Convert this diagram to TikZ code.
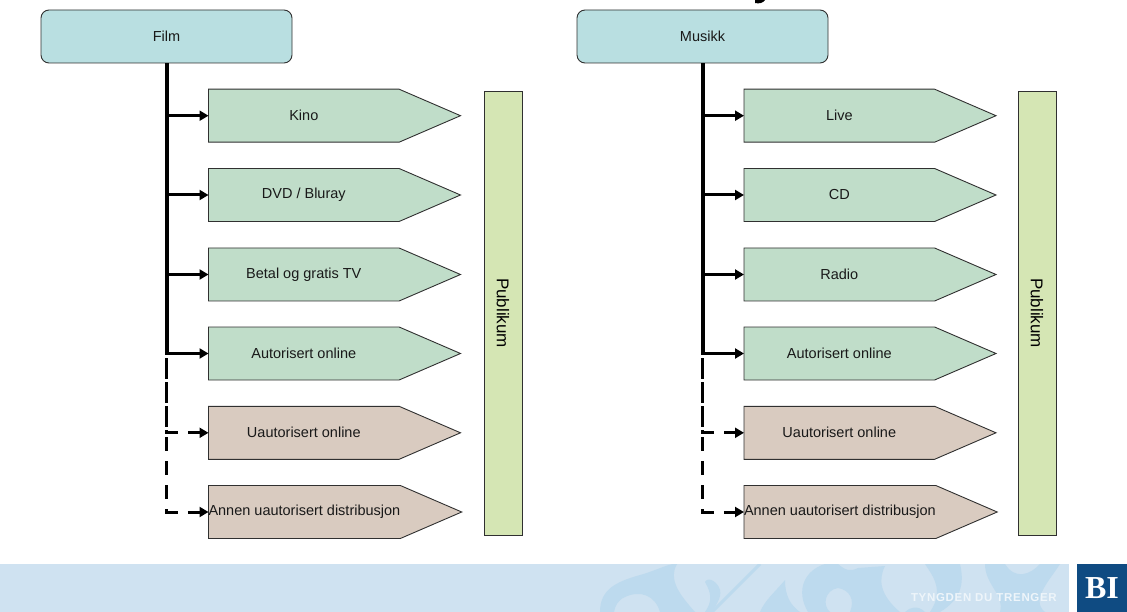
\documentclass[tikz,border=0pt]{standalone}
\usepackage{fontspec}
\setmainfont{Liberation Sans}
\newfontfamily\serifbi{Liberation Serif}
\newfontfamily\tagfont[LetterSpace=6]{Liberation Sans}
\usetikzlibrary{shapes.symbols,arrows.meta}
\definecolor{headfill}{HTML}{B9DFE1}
\definecolor{greenfill}{HTML}{C0DDC9}
\definecolor{brownfill}{HTML}{D9CBC0}
\definecolor{pubfill}{HTML}{D5E6B4}
\definecolor{bandfill}{HTML}{CFE2F1}
\definecolor{ornfill}{HTML}{BDDAEE}
\definecolor{binavy}{HTML}{0F4B82}
\definecolor{edge}{HTML}{303030}
\tikzset{
  x=1pt,y=-1pt,
  lbl/.style={font=\fontsize{14.5}{16}\selectfont,text=black!90},
  head/.style={lbl,draw=edge,line width=0.9pt,fill=headfill,rounded corners=8pt,
     minimum width=251pt,minimum height=53pt,inner sep=0pt},
  pent/.style={lbl,draw=edge,line width=0.9pt,shape=signal,signal to=east,signal pointer angle=46.7,
     minimum width=252pt,minimum height=53pt,inner sep=0pt,outer sep=0pt},
  okpent/.style={pent,fill=greenfill},
  badpent/.style={pent,fill=brownfill},
  pub/.style={draw=edge,line width=0.9pt,fill=pubfill,rotate=-90,
     minimum width=444pt,minimum height=38pt,inner sep=0pt,
     font=\fontsize{17}{19}\selectfont},
  tip/.style={-{Triangle[length=9pt,width=10pt]}},
  spine/.style={line width=4pt,black},
  branch/.style={line width=3pt,black,tip},
  dashA/.style={line width=3pt,black,tip,dash pattern=on 14pt off 10pt,dash phase=17pt},
  dashB/.style={line width=3pt,black,tip,dash pattern=on 14pt off 10pt,dash phase=10pt},
}
\newcommand{\pgroup}[8]{%
}
\begin{document}
\begin{tikzpicture}[x=1pt,y=-1pt]
\useasboundingbox (0,0) rectangle (1127,612);
\fill[black] (755,0) -- (765,0) .. controls (763,3) and (759,4) .. (755,3) -- cycle;
% band
\begin{scope}
\clip (0,564) rectangle (1069,612);
\fill[bandfill] (0,564) rectangle (1069,612);
\fill[ornfill] (600,612) .. controls (600,590) and (615,582) .. (640,575)
  .. controls (655,571) and (672,562) .. (677,564)
  .. controls (668,580) and (680,595) .. (695,612) -- (660,612)
  .. controls (655,595) and (640,590) .. (625,597)
  .. controls (618,600) and (615,606) .. (614,612) -- cycle;
\fill[ornfill] (705,582) .. controls (708,576) and (718,582) .. (720,590)
  .. controls (722,598) and (715,606) .. (712,612) -- (705,612)
  .. controls (712,602) and (712,594) .. (705,582) -- cycle;
\draw[ornfill,line width=3pt] (760,564) -- (712,612);
\fill[ornfill] (760,612) .. controls (765,600) and (775,592) .. (785,580)
  .. controls (785,595) and (790,605) .. (800,612) -- cycle;
\fill[ornfill] (808,612) .. controls (795,590) and (805,570) .. (825,564)
  -- (838,564) .. controls (845,570) and (850,572) .. (858,568)
  -- (885,566) .. controls (878,580) and (880,595) .. (900,612) -- (850,612)
  .. controls (855,600) and (850,590) .. (838,588)
  .. controls (825,590) and (822,605) .. (830,612) -- cycle;
\fill[ornfill] (905,612) .. controls (910,607) and (918,605) .. (925,612) -- cycle;
\fill[ornfill] (925,564) .. controls (932,575) and (945,590) .. (930,612) -- (940,612)
  .. controls (960,600) and (965,585) .. (960,564) -- cycle;
\fill[ornfill] (985,564) .. controls (985,585) and (1005,595) .. (1000,612) -- (1045,612)
  .. controls (1030,600) and (1050,580) .. (1060,564) -- (1040,564)
  .. controls (1030,575) and (1015,580) .. (1005,564) -- cycle;
\end{scope}
\node[anchor=east,text=bandfill!35!white,inner sep=0pt,font=\tagfont\bfseries\fontsize{11.5}{12}\selectfont] (tag) at (1057,598) {TYNGDEN DU TRENGER};
\node[fill=binavy,minimum width=50pt,minimum height=48pt,inner sep=0pt,text=white,
  font=\serifbi\bfseries\fontsize{32}{32}\selectfont] (bi) at (1102,588) {BI};
% left
\node[head] (film) at (166.5,36.5) {Film};
\node[okpent,anchor=west] (f1) at (208.5,115.7) {Kino};
\node[okpent,anchor=west] (f2) at (208.5,195) {DVD / Bluray};
\node[okpent,anchor=west] (f3) at (208.5,274.5) {Betal og gratis TV};
\node[okpent,anchor=west] (f4) at (208.5,353.5) {Autorisert online};
\node[badpent,anchor=west] (f5) at (208.5,432.8) {Uautorisert online};
\node[badpent,anchor=west] (f6) at (208.5,512) {Annen uautorisert distribusjon};
\node[pub] (fp) at (503,313) {Publikum};
\draw[spine] (film.south) -- (film.south |- f4.west);
\foreach \t in {f1,f2,f3,f4}{\draw[branch] (film.south |- \t.west) -- (\t.west);}
\draw[dashA] (film.south) |- (f5.west);
\draw[dashB] (film.south) |- (f6.west);
% right
\node[head] (mus) at (702.5,36.5) {Musikk};
\node[okpent,anchor=west] (m1) at (744,115.7) {Live};
\node[okpent,anchor=west] (m2) at (744,195) {CD};
\node[okpent,anchor=west] (m3) at (744,274.5) {Radio};
\node[okpent,anchor=west] (m4) at (744,353.5) {Autorisert online};
\node[badpent,anchor=west] (m5) at (744,432.8) {Uautorisert online};
\node[badpent,anchor=west] (m6) at (744,512) {Annen uautorisert distribusjon};
\node[pub] (mp) at (1037,313) {Publikum};
\draw[spine] (mus.south) -- (mus.south |- m4.west);
\foreach \t in {m1,m2,m3,m4}{\draw[branch] (mus.south |- \t.west) -- (\t.west);}
\draw[dashA] (mus.south) |- (m5.west);
\draw[dashB] (mus.south) |- (m6.west);
\end{tikzpicture}
\end{document}
